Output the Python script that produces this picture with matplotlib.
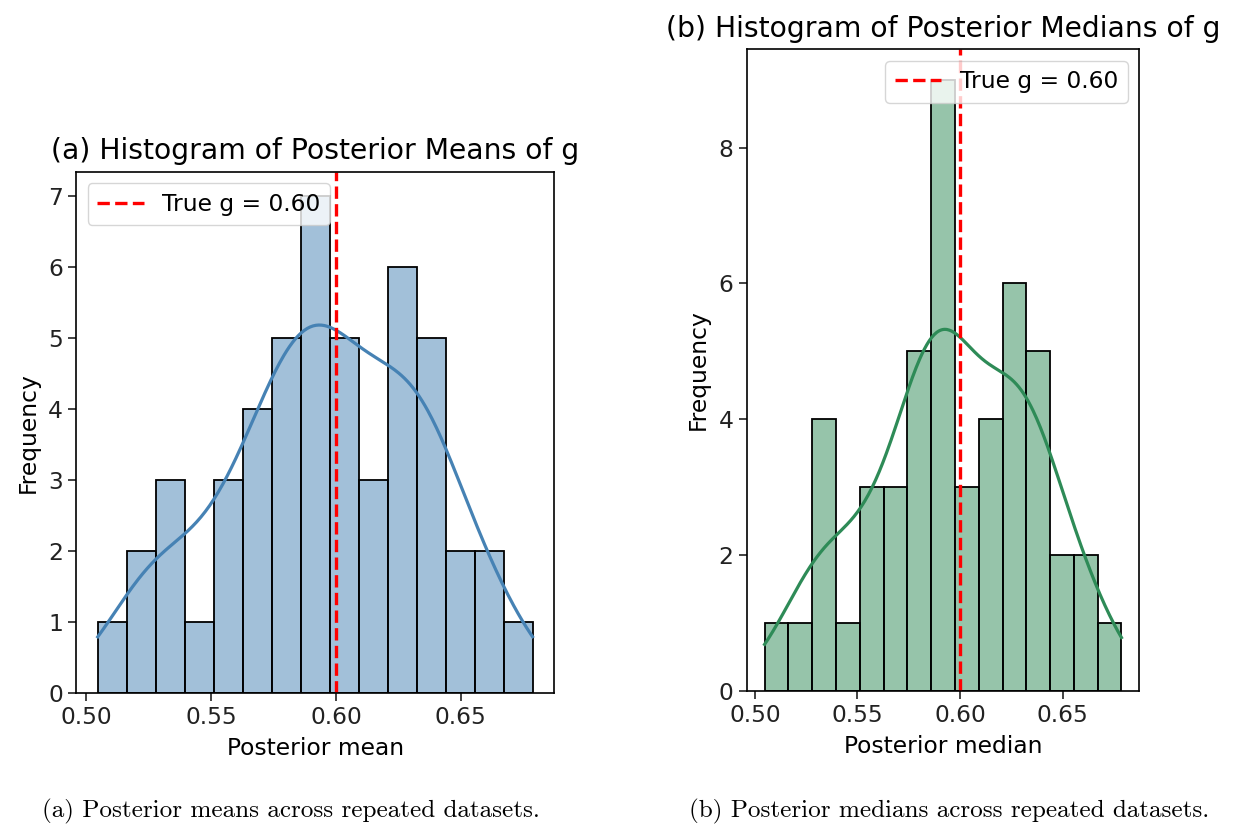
import numpy as np
import matplotlib
matplotlib.use("Agg")
import matplotlib.pyplot as plt
from matplotlib.colors import to_rgba

# bin counts (50 repeated datasets each)
mean_counts = [1, 2, 3, 1, 3, 4, 5, 7, 5, 3, 6, 5, 2, 2, 1]
median_counts = [1, 1, 4, 1, 3, 3, 5, 9, 3, 4, 6, 5, 2, 2, 1]
lo, hi = 0.5047, 0.6787
true_g = 0.60

xticks = [0.50, 0.55, 0.60, 0.65]

FS = 16.8


def kde_curve(counts, edges, adjust=0.92):
	# gaussian kde on the bin centres, scott bandwidth, scaled to counts
	counts = np.asarray(counts, dtype=float)
	centers = 0.5 * (edges[:-1] + edges[1:])
	h = edges[1] - edges[0]
	n = counts.sum()
	mu = np.sum(counts * centers) / n
	var = np.sum(counts * (centers - mu) ** 2) / (n - 1) - h ** 2 / 12
	bw = adjust * np.sqrt(var) * n ** (-1 / 5)
	grid = np.linspace(edges[0], edges[-1], 300)
	dens = np.zeros_like(grid)
	for c, w in zip(centers, counts):
		dens += w * np.exp(-0.5 * ((grid - c) / bw) ** 2)
	dens /= n * bw * np.sqrt(2 * np.pi)
	return grid, dens * n * h


def hist_panel(ax, counts, color, title, xlabel, legend_loc):
	edges = np.linspace(lo, hi, len(counts) + 1)
	ax.bar(edges[:-1], counts, width=np.diff(edges), align="edge",
		color=to_rgba(color, 0.5), edgecolor="black", linewidth=1.3)
	gx, gy = kde_curve(counts, edges)
	ax.plot(gx, gy, color=color, linewidth=2.3)
	ax.axvline(true_g, color="red", linestyle="--", linewidth=2.4,
		label="True g = %.2f" % true_g)
	pad = 0.05 * (hi - lo)
	ax.set_xlim(lo - pad, hi + pad)
	ax.set_ylim(0, max(counts) * 1.05)
	ax.set_xticks(xticks)
	ax.set_xticklabels(["%.2f" % t for t in xticks])
	ax.set_title(title, fontsize=20.3, pad=9)
	ax.set_xlabel(xlabel, fontsize=FS, labelpad=6)
	ax.set_ylabel("Frequency", fontsize=FS, labelpad=6)
	ax.tick_params(labelsize=FS, length=6, width=1.2, colors="#222222")
	for s in ax.spines.values():
		s.set_linewidth(1.2)
	ax.legend(loc=legend_loc, fontsize=FS, framealpha=0.8,
		handlelength=2.0, borderpad=0.4)


fig = plt.figure(figsize=(12.4, 8.27), dpi=100)

ax1 = fig.add_axes([0.0613, 0.1624, 0.3857, 0.6300])
hist_panel(ax1, mean_counts, "steelblue",
	"(a) Histogram of Posterior Means of g", "Posterior mean", "upper left")
ax1.set_yticks(range(0, 8))

ax2 = fig.add_axes([0.6022, 0.1648, 0.3166, 0.7756])
hist_panel(ax2, median_counts, "seagreen",
	"(b) Histogram of Posterior Medians of g", "Posterior median", "upper right")
ax2.set_yticks([0, 2, 4, 6, 8])

fig.text(0.034, 0.012, "(a) Posterior means across repeated datasets.",
	fontfamily="cmr10", fontsize=18.1)
fig.text(0.556, 0.012, "(b) Posterior medians across repeated datasets.",
	fontfamily="cmr10", fontsize=18.1)

fig.savefig("out.png", dpi=100)
